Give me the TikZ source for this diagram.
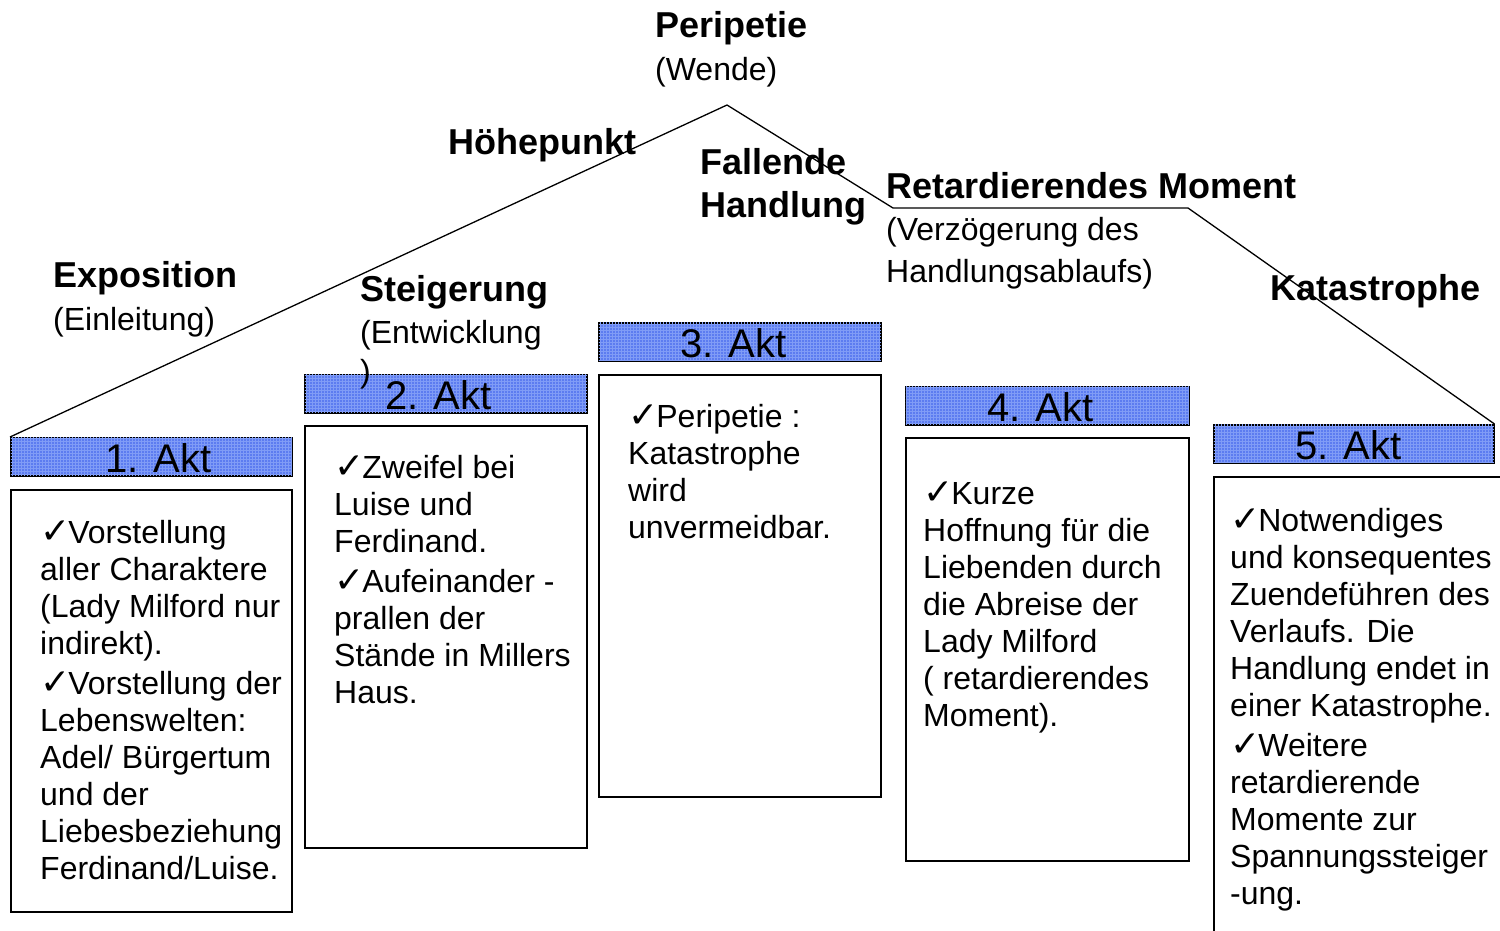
\documentclass[tikz,border=0pt]{standalone}
\usepackage{fontspec}
\setmainfont{Liberation Sans}
\newfontfamily\symfont{DejaVu Sans}
\usetikzlibrary{patterns}
\definecolor{aktblue}{RGB}{92,124,240}
\definecolor{gridblue}{RGB}{128,156,246}
\newcommand{\ck}{{\symfont\fontsize{36}{36}\selectfont ✓}\kern-2pt}
\newcommand{\st}{\rule{0pt}{25pt}}
\begin{document}
\begin{tikzpicture}[x=1pt,y=-1pt,
  hdr/.style={draw=black, line width=1.5pt, fill=aktblue,
    postaction={pattern=grid, pattern color=gridblue},
    inner sep=0pt, anchor=north west, minimum height=38pt},
  bodybox/.style={draw=black, line width=1.5pt, fill=white, inner sep=0pt, anchor=north west},
  akttxt/.style={anchor=base west, inner sep=0pt, font=\fontsize{40}{40}\selectfont},
  txt/.style={anchor=north west, inner sep=0pt, align=left, font=\fontsize{32}{37}\selectfont},
  lbl/.style={anchor=base west, inner sep=0pt, font=\bfseries\fontsize{36}{36}\selectfont},
  sub/.style={anchor=base west, inner sep=0pt, font=\fontsize{32}{32}\selectfont},
  curve/.style={draw=black, line width=1.3pt}
]
\useasboundingbox (0,0) rectangle (1500,930);

% act headers
\node[hdr, minimum width=281pt] (h1) at (10,437) {};
\node[hdr, minimum width=282pt] (h2) at (304,374) {};
\node[hdr, minimum width=282pt] (h3) at (598,322) {};
\node[hdr, minimum width=283pt] (h4) at (905,386) {};
\node[hdr, minimum width=280pt] (h5) at (1213,424) {};

\node[akttxt] (a1) at (105,472) {1. Akt};
\node[akttxt] (a2) at (385,409) {2. Akt};
\node[akttxt] (a3) at (680,357) {3. Akt};
\node[akttxt] (a4) at (987,421) {4. Akt};
\node[akttxt] (a5) at (1295,459) {5. Akt};

% body boxes
\node[bodybox, minimum width=281pt, minimum height=422pt] (b1) at (10,489) {};
\node[bodybox, minimum width=282pt, minimum height=422pt] (b2) at (304,425) {};
\node[bodybox, minimum width=282pt, minimum height=422pt] (b3) at (598,374) {};
\node[bodybox, minimum width=283pt, minimum height=423pt] (b4) at (905,437) {};
\node[bodybox, minimum width=320pt, minimum height=480pt] (b5) at (1213,476) {};

% body texts
\node[txt] (t1) at (40,518) {\st\ck Vorstellung\\ aller Charaktere\\ (Lady Milford nur\\ indirekt).\\[3pt] \ck Vorstellung der\\ Lebenswelten:\\ Adel/ Bürgertum\\ und der\\ Liebesbeziehung\\ Ferdinand/Luise.};
\node[txt] (t2) at (334,453) {\st\ck Zweifel bei\\ Luise und\\ Ferdinand.\\[3pt] \ck Aufeinander -\\ prallen der\\ Stände in Millers\\ Haus.};
\node[txt] (t3) at (628,402) {\st\ck Peripetie :\\ Katastrophe\\ wird\\ unvermeidbar.};
\node[txt] (t4) at (923,479) {\st\ck Kurze\\ Hoffnung für die\\ Liebenden durch\\ die Abreise der\\ Lady Milford\\ ( retardierendes\\ Moment).};
\node[txt] (t5) at (1230,506) {\st\ck Notwendiges\\ und konsequentes\\ Zuendeführen des\\ Verlaufs. Die\\ Handlung endet in\\ einer Katastrophe.\\[3pt] \ck Weitere\\ retardierende\\ Momente zur\\ Spannungssteiger\\ -ung.};

% curve
\coordinate (apex) at (727,105);
\coordinate (k1) at (893,208);
\coordinate (k2) at (1188,208);
\draw[curve] (h1.north west) -- (apex) -- (k1) -- (k2) -- (h5.north east);

% labels
\node[lbl] (peri) at (655,37) {Peripetie};
\node[sub] (wende) at (655,80) {(Wende)};
\node[lbl] (hoehe) at (448,154) {Höhepunkt};
\node[lbl] (fall1) at (700,174) {Fallende};
\node[lbl] (fall2) at (700,217) {Handlung};
\node[lbl] (retard) at (886,198) {Retardierendes Moment};
\node[sub] (verz1) at (886,240) {(Verzögerung des};
\node[sub] (verz2) at (886,282) {Handlungsablaufs)};
\node[lbl] (kata) at (1270,300) {Katastrophe};
\node[lbl] (expo) at (53,287) {Exposition};
\node[sub] (einl) at (53,330) {(Einleitung)};
\node[lbl] (steig) at (360,301) {Steigerung};
\node[sub] (entw1) at (360,343) {(Entwicklung};
\node[sub] (entw2) at (360,382) {)};
\end{tikzpicture}
\end{document}
